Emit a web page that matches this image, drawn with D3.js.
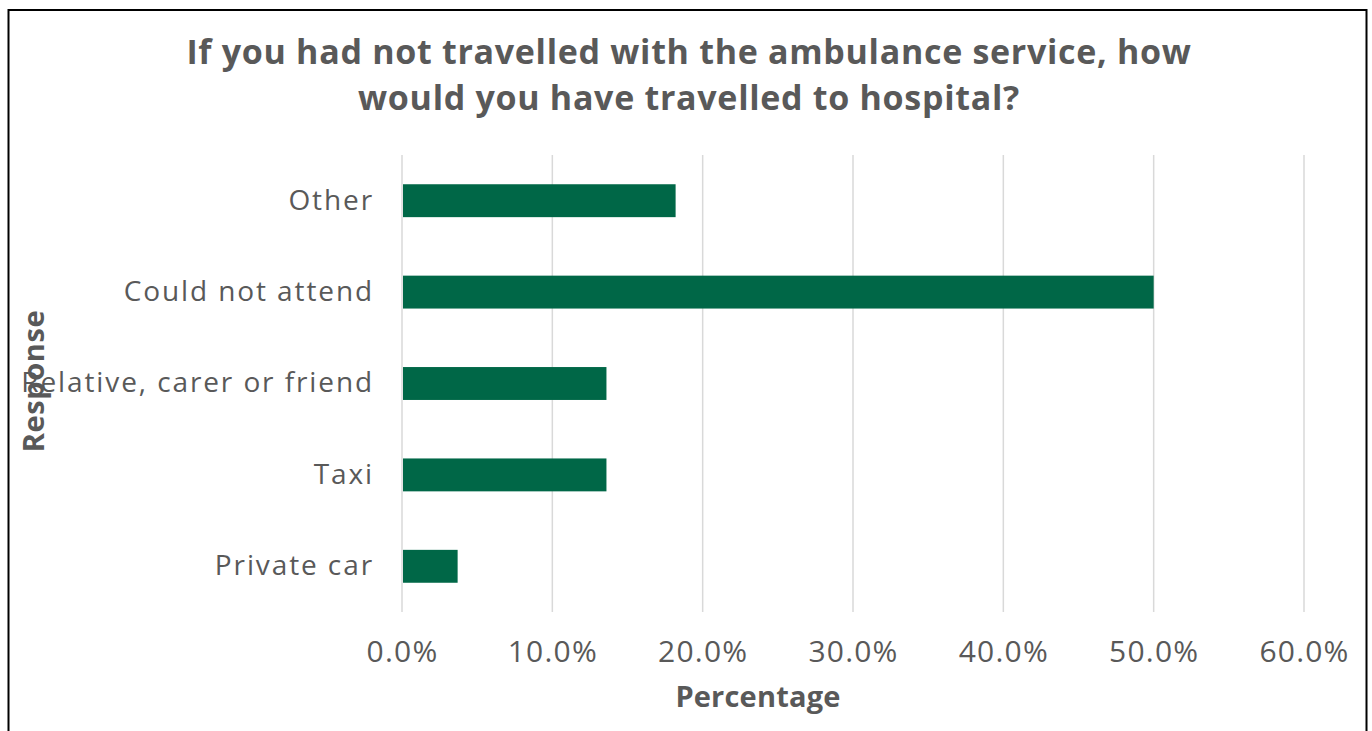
<!DOCTYPE html>
<html>
<head>
<meta charset="utf-8">
<script src="https://cdn.jsdelivr.net/npm/d3@7"></script>
<style>
  body { margin: 0; background: #fff; }
  text { font-family: "Open Sans", "Noto Sans", sans-serif; fill: #595959; }
</style>
</head>
<body>
<div id="container"></div>
<script>
// data
var categories = ["Other", "Could not attend", "Relative, carer or friend", "Taxi", "Private car"];
var values = [18.2, 50.0, 13.6, 13.6, 3.7];
var xTicks = [0, 10, 20, 30, 40, 50, 60];
var titleLines = ["If you had not travelled with the ambulance service, how", "would you have travelled to hospital?"];

var W = 1372, H = 731;
var plot = { left: 402, right: 1304, top: 155, bottom: 612 };

var svg = d3.select("#container")
  .append("svg")
  .attr("width", W)
  .attr("height", H);

// chart border (bottom edge runs off the page)
svg.append("rect")
  .attr("x", 8.5)
  .attr("y", 10)
  .attr("width", 1358)
  .attr("height", 740)
  .attr("fill", "none")
  .attr("stroke", "#000")
  .attr("stroke-width", 2);

var x = d3.scaleLinear().domain([0, 60]).range([plot.left, plot.right]);
var y = d3.scaleBand()
  .domain(categories)
  .range([plot.top, plot.bottom])
  .paddingInner(0.64)
  .paddingOuter(0.32);

// gridlines
svg.append("g")
  .selectAll("line")
  .data(xTicks)
  .enter()
  .append("line")
  .attr("x1", function (d) { return x(d); })
  .attr("x2", function (d) { return x(d); })
  .attr("y1", plot.top)
  .attr("y2", plot.bottom)
  .attr("stroke", "#d9d9d9")
  .attr("stroke-width", 1.5);

// x axis labels
var xAxis = svg.append("g")
  .attr("transform", "translate(0," + plot.bottom + ")")
  .call(d3.axisBottom(x).tickValues(xTicks).tickSize(0).tickPadding(0)
    .tickFormat(function (d) { return d.toFixed(1) + "%"; }));
xAxis.select(".domain").remove();
xAxis.selectAll("text")
  .attr("y", 50)
  .attr("dy", null)
  .style("font-size", "30px")
  .style("letter-spacing", "1.2px")
  .attr("fill", "#595959");

// y axis labels
var yAxis = svg.append("g")
  .attr("transform", "translate(" + plot.left + ",0)")
  .call(d3.axisLeft(y).tickSize(0).tickPadding(28));
yAxis.select(".domain").remove();
yAxis.selectAll("text")
  .style("font-size", "28px")
  .style("letter-spacing", "1.9px")
  .attr("fill", "#595959");

// bars
svg.append("g")
  .selectAll("rect")
  .data(categories)
  .enter()
  .append("rect")
  .attr("x", x(0) + 1)
  .attr("y", function (d) { return y(d); })
  .attr("width", function (d, i) { return x(values[i]) - x(0) - 1; })
  .attr("height", y.bandwidth())
  .attr("fill", "#006747");

// title
svg.append("text")
  .attr("text-anchor", "middle")
  .style("font-size", "34px")
  .style("font-weight", "bold")
  .style("letter-spacing", "0.7px")
  .selectAll("tspan")
  .data(titleLines)
  .enter()
  .append("tspan")
  .attr("x", 689)
  .attr("y", function (d, i) { return 64 + i * 46; })
  .text(function (d) { return d; });

// axis titles
svg.append("text")
  .attr("text-anchor", "middle")
  .attr("x", 758)
  .attr("y", 707)
  .style("font-size", "29px")
  .style("font-weight", "bold")
  .style("letter-spacing", "0.2px")
  .text("Percentage");

svg.append("text")
  .attr("text-anchor", "middle")
  .attr("transform", "translate(44,381) rotate(-90)")
  .style("font-size", "29px")
  .style("font-weight", "bold")
  .style("letter-spacing", "0.6px")
  .text("Response");
</script>
</body>
</html>
